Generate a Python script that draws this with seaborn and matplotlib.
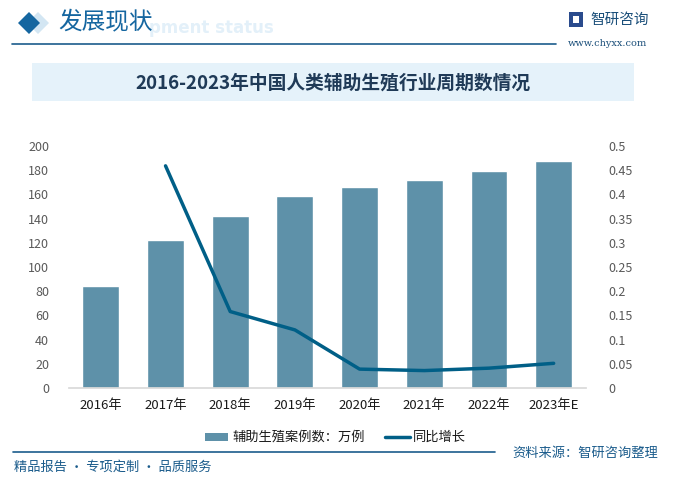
import matplotlib
matplotlib.use("Agg")
import matplotlib.pyplot as plt
from matplotlib.patches import Rectangle, Polygon
from matplotlib.lines import Line2D
import seaborn as sns
import numpy as np
import pandas as pd

categories = ["2016年", "2017年", "2018年", "2019年", "2020年", "2021年", "2022年", "2023年E"]
cases = [84, 122, 142, 159, 166, 172, 179, 188]
growth_cats = ["2017年", "2018年", "2019年", "2020年", "2021年", "2022年", "2023年E"]
growth = [0.459, 0.158, 0.120, 0.039, 0.036, 0.041, 0.051]
left_ticks = [0, 20, 40, 60, 80, 100, 120, 140, 160, 180, 200]
right_ticks = [0, 0.05, 0.1, 0.15, 0.2, 0.25, 0.3, 0.35, 0.4, 0.45, 0.5]
right_labels = ["0", "0.05", "0.1", "0.15", "0.2", "0.25", "0.3", "0.35", "0.4", "0.45", "0.5"]

sns.set_theme(style="white")
plt.rcParams['font.family'] = ['Noto Sans CJK SC', 'DejaVu Sans']

BAR = "#5E91A9"
LINE = "#005F87"

W, H = 673, 487
fig = plt.figure(figsize=(W / 100, H / 100), dpi=100)

def fx(x):
    return x / W

def fy(y):
    return 1 - y / H

# header
fig.patches.append(Polygon([[fx(38), fy(12)], [fx(49), fy(23)], [fx(38), fy(34)], [fx(27), fy(23)]],
                           closed=True, transform=fig.transFigure, facecolor="#D3E6F3", edgecolor="none"))
fig.patches.append(Polygon([[fx(29), fy(12)], [fx(40), fy(23)], [fx(29), fy(34)], [fx(18), fy(23)]],
                           closed=True, transform=fig.transFigure, facecolor="#1566A0", edgecolor="none"))
fig.text(fx(149), fy(28), "pment status", fontsize=12, fontweight="bold", color="#E3F0F9",
         ha="left", va="center", family=["DejaVu Sans"])
fig.text(fx(58), fy(22), "发展现状", fontsize=17, fontweight="medium", color="#1566A0",
         ha="left", va="center")
fig.lines.append(Line2D([fx(12), fx(556)], [fy(44), fy(44)], transform=fig.transFigure,
                        color="#1B5C8C", lw=1.2))
# logo
fig.patches.append(Rectangle((fx(569), fy(27)), fx(14), 15 / H, transform=fig.transFigure,
                             facecolor="#2A4B8D", edgecolor="none"))
fig.patches.append(Rectangle((fx(573), fy(23)), fx(6), 7 / H, transform=fig.transFigure,
                             facecolor="white", edgecolor="none"))
fig.text(fx(590), fy(20), "智研咨询", fontsize=10.5, color="#1B4F7A", ha="left", va="center")
fig.text(fx(568), fy(43), "www.chyxx.com", fontsize=7, color="#1B4F7A", ha="left", va="center",
         family=["DejaVu Serif"])

# title box
fig.patches.append(Rectangle((fx(32), fy(101)), fx(602), 38 / H, transform=fig.transFigure,
                             facecolor="#E5F2FA", edgecolor="none"))
fig.text(fx(333), fy(83), "2016-2023年中国人类辅助生殖行业周期数情况", fontsize=13.5,
         fontweight="bold", color="#1F3A57", ha="center", va="center")

# chart
ax = fig.add_axes([fx(68.5), fy(388), fx(586) - fx(68.5), (388 - 146) / H])
df = pd.DataFrame({"year": categories, "cases": cases})
sns.barplot(data=df, x="year", y="cases", color=BAR, saturation=1, width=0.57, ax=ax)
ax.set_xlim(-0.5, len(categories) - 0.5)
ax.set_ylim(0, 200)
ax.set_yticks(left_ticks)
ax.set_yticklabels([str(t) for t in left_ticks])
ax.set_xlabel("")
ax.set_ylabel("")
for s in ["top", "right", "left"]:
    ax.spines[s].set_visible(False)
ax.spines["bottom"].set_color("#D9D9D9")
ax.tick_params(axis="y", length=0, labelsize=9, labelcolor="#595959", pad=14)
ax.tick_params(axis="x", length=0, labelsize=9.5, labelcolor="#1A1A1A", pad=8)

ax2 = ax.twinx()
pos = [categories.index(c) for c in growth_cats]
ldf = pd.DataFrame({"pos": pos, "growth": growth})
sns.lineplot(data=ldf, x="pos", y="growth", color=LINE, lw=2.5, ax=ax2)
ax2.set_ylim(0, 0.5)
ax2.set_yticks(right_ticks)
ax2.set_yticklabels(right_labels)
ax2.set_ylabel("")
ax2.set_xlabel("")
ax.set_xlim(-0.5, len(categories) - 0.5)
for s in ["top", "right", "left", "bottom"]:
    ax2.spines[s].set_visible(False)
ax2.tick_params(axis="y", length=0, labelsize=9, labelcolor="#595959", pad=16)
ax2.grid(False)
ax.grid(False)

# legend
fig.patches.append(Rectangle((fx(205), fy(441)), fx(23), 8 / H, transform=fig.transFigure,
                             facecolor=BAR, edgecolor="none"))
fig.text(fx(232), fy(437), "辅助生殖案例数：万例", fontsize=9.5, color="#1A1A1A", ha="left", va="center")
fig.lines.append(Line2D([fx(385), fx(410)], [fy(437), fy(437)], transform=fig.transFigure,
                        color=LINE, lw=2.5))
fig.text(fx(413), fy(437), "同比增长", fontsize=9.5, color="#1A1A1A", ha="left", va="center")

# footer
fig.lines.append(Line2D([fx(13), fx(495)], [fy(452), fy(452)], transform=fig.transFigure,
                        color="#1B5C8C", lw=1.2))
fig.text(fx(658), fy(453), "资料来源：智研咨询整理", fontsize=9.5, color="#1B5C8C", ha="right", va="center")
fig.text(fx(14), fy(467), "精品报告 · 专项定制 · 品质服务", fontsize=9.5, color="#1B5C8C", ha="left", va="center")

fig.savefig("out.png", dpi=100)
